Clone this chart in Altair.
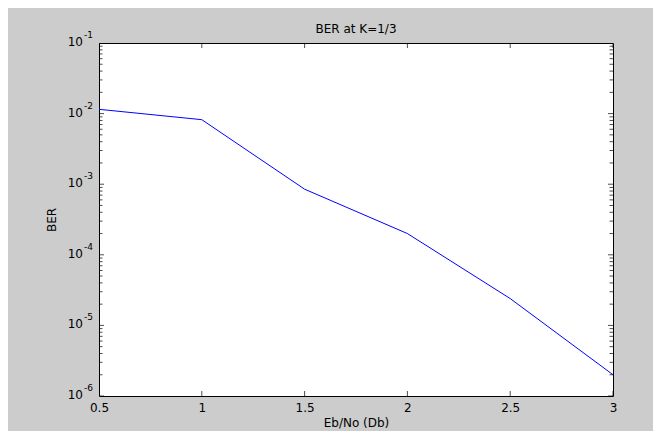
import altair as alt
import pandas as pd

# ---- data ----
eb_no = [0.5, 1.0, 1.5, 2.0, 2.5, 3.0]
ber = [1.15e-2, 8.2e-3, 8.5e-4, 2.0e-4, 2.4e-5, 2.0e-6]

x_ticks = [0.5, 1.0, 1.5, 2.0, 2.5, 3.0]
x_domain = [0.5, 3.0]
y_domain = [1e-6, 1e-1]
y_exponents = [-1, -2, -3, -4, -5, -6]
minor_mult = [2, 3, 4, 5, 6, 7, 8, 9]

FONT = "DejaVu Sans"

y_major = [10.0 ** e for e in y_exponents]
y_minor = [m * 10.0 ** e for e in y_exponents[1:] for m in minor_mult]

x_axis = alt.Axis(values=x_ticks, format="~g", title="Eb/No (Db)", labelFlush=False,
                  ticks=False, domain=False, grid=False, labelPadding=6, titlePadding=4,
                  labelFontSize=12, titleFontSize=12, labelFont=FONT, titleFont=FONT,
                  titleFontWeight="normal", labelColor="black", titleColor="black",
                  labelOverlap=False)
y_axis = alt.Axis(title="BER", labels=False, ticks=False, domain=False, grid=False,
                  titlePadding=41, titleFontSize=12, titleFont=FONT,
                  titleFontWeight="normal", titleColor="black")

xs = alt.Scale(domain=x_domain, nice=False, zero=False)
ys = alt.Scale(type="log", domain=y_domain, nice=False)


def X():
    return alt.X("x:Q", scale=xs, axis=x_axis)


def Y():
    return alt.Y("y:Q", scale=ys, axis=y_axis)


line_df = pd.DataFrame({"x": eb_no, "y": ber})
xt_df = pd.DataFrame([{"x": x, "y": y} for x in x_ticks for y in y_domain])
ymaj_df = pd.DataFrame([{"x": x, "y": y} for x in x_domain for y in y_major])
ymin_df = pd.DataFrame([{"x": x, "y": y} for x in x_domain for y in y_minor])
lab_df = pd.DataFrame({"x": [x_domain[0]] * len(y_exponents), "y": y_major,
                       "base": ["10"] * len(y_exponents),
                       "exp": [str(e) for e in y_exponents]})

line = alt.Chart(line_df).mark_line(color="#0000ff", strokeWidth=1, clip=True).encode(x=X(), y=Y())
xt = alt.Chart(xt_df).mark_tick(orient="vertical", size=10, thickness=1, color="black", clip=True).encode(x=X(), y=Y())
ymaj = alt.Chart(ymaj_df).mark_tick(orient="horizontal", size=10, thickness=1, color="black", clip=True).encode(x=X(), y=Y())
ymin = alt.Chart(ymin_df).mark_tick(orient="horizontal", size=7, thickness=1, color="black", clip=True).encode(x=X(), y=Y())
lab_base = alt.Chart(lab_df).mark_text(align="right", baseline="middle", dx=-16, dy=-1,
                                       fontSize=12, font=FONT, color="black").encode(x=X(), y=Y(), text="base:N")
lab_exp = alt.Chart(lab_df).mark_text(align="left", baseline="middle", dx=-15, dy=-8,
                                      fontSize=9, font=FONT, color="black").encode(x=X(), y=Y(), text="exp:N")

chart = alt.layer(line, xt, ymaj, ymin, lab_base, lab_exp).properties(
    width=514, height=353,
    title=alt.TitleParams("BER at K=1/3", font=FONT, fontSize=12, fontWeight="normal",
                          color="black", offset=9, dy=14, anchor="middle", frame="group"),
    autosize=alt.AutoSizeParams(type="none"),
    padding={"left": 91, "top": 35, "right": 40, "bottom": 35},
    background="#cccccc",
).configure_view(fill="white", stroke="black", strokeWidth=1)

chart.save("out.html", embed_options={"renderer": "svg", "actions": False})
